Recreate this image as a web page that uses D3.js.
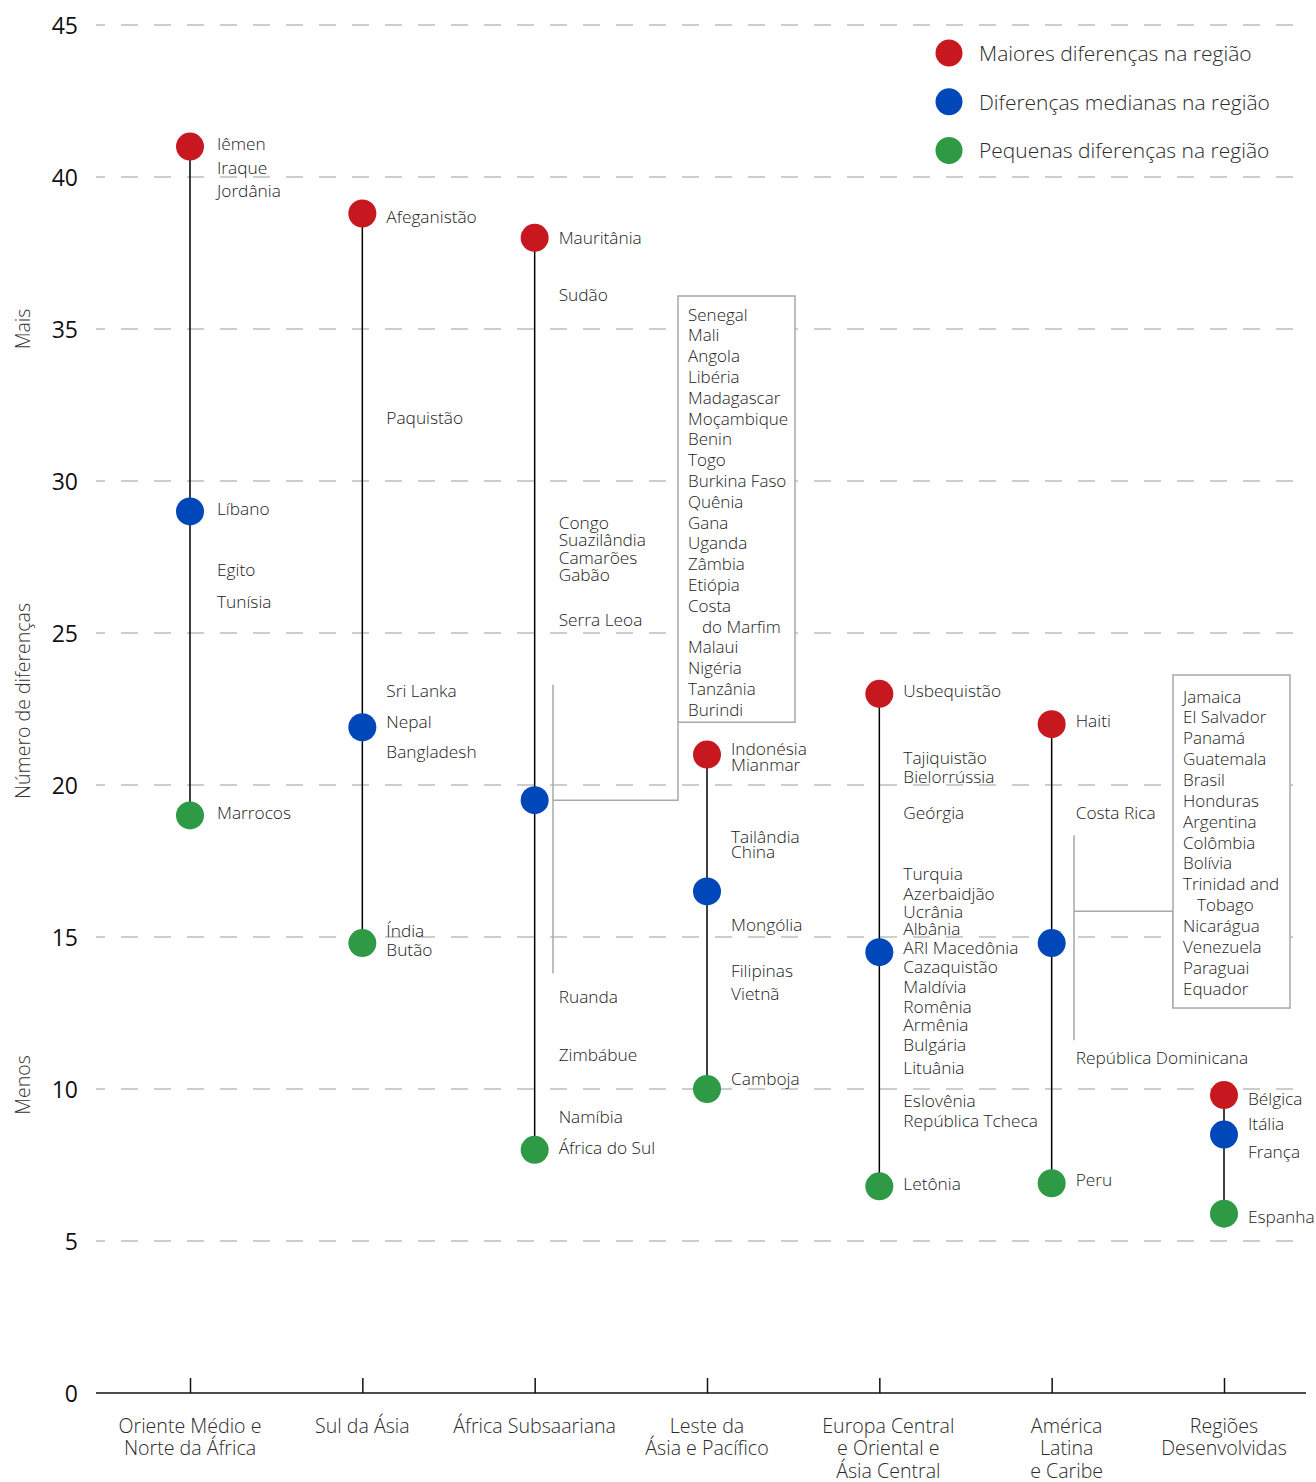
<!DOCTYPE html>
<html><head><meta charset="utf-8">
<script src="https://cdn.jsdelivr.net/npm/d3@7"></script>
<style>
html,body{margin:0;padding:0;background:#fff;}
svg text{font-family:"Open Sans","Noto Sans",sans-serif;font-weight:300;}
</style></head>
<body><svg id="chart" width="1316" height="1482"></svg>
<script>
// ---------- data ----------
const regions = [
  ["Oriente Médio e","Norte da África"],
  ["Sul da Ásia"],
  ["África Subsaariana"],
  ["Leste da","Ásia e Pacífico"],
  ["Europa Central","e Oriental e","Ásia Central"],
  ["América","Latina","e Caribe"],
  ["Regiões","Desenvolvidas"]
];
const maiores   = [41, 38.8, 38, 21, 23, 22, 9.8];
const medianas  = [29, 21.9, 19.5, 16.5, 14.5, 14.8, 8.5];
const pequenas  = [19, 14.8, 8, 10, 6.8, 6.9, 5.9];
const yTicks = [0,5,10,15,20,25,30,35,40,45];
const legendLabels = ["Maiores diferenças na região","Diferenças medianas na região","Pequenas diferenças na região"];

// country labels: [region index, name, number of differences]
const countryLabels = [
  [0,"Iêmen",41.1],[0,"Iraque",40.3],[0,"Jordânia",39.55],[0,"Líbano",29.1],[0,"Egito",27.1],[0,"Tunísia",26.05],[0,"Marrocos",19.1],
  [1,"Afeganistão",38.7],[1,"Paquistão",32.1],[1,"Sri Lanka",23.1],[1,"Nepal",22.1],[1,"Bangladesh",21.1],[1,"Índia",15.2],[1,"Butão",14.6],
  [2,"Mauritânia",38],[2,"Sudão",36.15],[2,"Congo",28.65],[2,"Suazilândia",28.06],[2,"Camarões",27.5],[2,"Gabão",26.94],[2,"Serra Leoa",25.45],
  [2,"Ruanda",13.03],[2,"Zimbábue",11.12],[2,"Namíbia",9.1],[2,"África do Sul",8.06],
  [3,"Indonésia",21.2],[3,"Mianmar",20.68],[3,"Tailândia",18.3],[3,"China",17.8],[3,"Mongólia",15.4],[3,"Filipinas",13.9],[3,"Vietnã",13.13],[3,"Camboja",10.33],
  [4,"Usbequistão",23.1],[4,"Tajiquistão",20.9],[4,"Bielorrússia",20.27],[4,"Geórgia",19.1],[4,"Turquia",17.1],[4,"Azerbaidjão",16.44],[4,"Ucrânia",15.85],
  [4,"Albânia",15.27],[4,"ARI Macedônia",14.65],[4,"Cazaquistão",14.03],[4,"Maldívia",13.37],[4,"Romênia",12.72],[4,"Armênia",12.11],[4,"Bulgária",11.46],
  [4,"Lituânia",10.72],[4,"Eslovênia",9.62],[4,"República Tcheca",8.96],[4,"Letônia",6.9],
  [5,"Haiti",22.12],[5,"Costa Rica",19.1],[5,"República Dominicana",11.05],[5,"Peru",7.02],
  [6,"Bélgica",9.68],[6,"Itália",8.85],[6,"França",7.93],[6,"Espanha",5.8]
];
// boxed lists
const boxAfrica = ["Senegal","Mali","Angola","Libéria","Madagascar","Moçambique","Benin","Togo","Burkina Faso","Quênia","Gana","Uganda","Zâmbia","Etiópia","Costa","  do Marfim","Malaui","Nigéria","Tanzânia","Burindi"];
const boxLatam  = ["Jamaica","El Salvador","Panamá","Guatemala","Brasil","Honduras","Argentina","Colômbia","Bolívia","Trinidad and","  Tobago","Nicarágua","Venezuela","Paraguai","Equador"];
// bracket range [top, bottom, link level] in number of differences
const bracketAfrica = [23.3, 13.8, 19.5];
const bracketLatam  = [18.35, 11.6, 15.85];

// ---------- layout ----------
const svg = d3.select("#chart");
const y = d3.scaleLinear().domain([0,45]).range([1393,25]);
const x = d3.scalePoint().domain(d3.range(regions.length)).range([190,1224]);
const colors = ["#c8181f","#0047ba","#2e9a46"];
const labelColor = "#222";
const xLabelShift = {4:9, 5:15};

// gridlines
svg.append("g").selectAll("line").data(yTicks.filter(d=>d>0)).join("line")
  .attr("x1",96).attr("x2",1306).attr("y1",d=>y(d)).attr("y2",d=>y(d))
  .attr("stroke","#bdbdbd").attr("stroke-width",1.5)
  .attr("stroke-dasharray","17 16").attr("stroke-dashoffset",8);

// y tick labels
svg.append("g").selectAll("text").data(yTicks).join("text")
  .attr("x",78).attr("y",d=>y(d)).attr("text-anchor","end").attr("dominant-baseline","central")
  .attr("font-size",23).attr("fill","#111").attr("style","font-weight:400").text(d=>d);

// y side titles
[["Mais",329],["Número de diferenças",701],["Menos",1085]].forEach(([t,cy])=>{
  svg.append("text").attr("transform",`translate(22,${cy}) rotate(-90)`)
    .attr("text-anchor","middle").attr("dominant-baseline","central")
    .attr("font-size",19.5).attr("fill","#333").text(t);
});

// x axis baseline + ticks
const xAxis = d3.axisBottom(x).tickSizeInner(-15).tickSizeOuter(0).tickFormat("");
const gx = svg.append("g").attr("transform","translate(0,1393)").call(xAxis);
gx.select(".domain").remove();
gx.selectAll(".tick line").attr("stroke","#111").attr("stroke-width",1.5);
svg.append("line").attr("x1",96).attr("x2",1306).attr("y1",1393).attr("y2",1393)
  .attr("stroke","#111").attr("stroke-width",1.5);

// x labels
regions.forEach((lines,i)=>{
  const t = svg.append("text").attr("text-anchor","middle").attr("font-size",19.6).attr("fill","#2b2b2b");
  lines.forEach((l,j)=>t.append("tspan").attr("x",x(i)+(xLabelShift[i]||0)).attr("y",1425+j*22.5).attr("dominant-baseline","central").text(l));
});

// brackets and boxes
function drawBox(items, bracket, bx, bw, top, firstOff, lineH, bottomPad, bracketX){
  const g = svg.append("g");
  const linkY = y(bracket[2]);
  g.append("line").attr("x1",bracketX).attr("x2",bracketX).attr("y1",y(bracket[0])).attr("y2",y(bracket[1]))
    .attr("stroke","#a8a8a8").attr("stroke-width",1.5);
  const h = firstOff + (items.length-1)*lineH + bottomPad;
  g.append("polyline").attr("points",`${bracketX},${linkY} ${bx},${linkY} ${bx},${top+h}`)
    .attr("fill","none").attr("stroke","#a8a8a8").attr("stroke-width",1.5);
  g.append("rect").attr("x",bx).attr("y",top).attr("width",bw).attr("height",h)
    .attr("fill","#fff").attr("stroke","#a8a8a8").attr("stroke-width",1.5);
  g.append("g").selectAll("text").data(items).join("text")
    .attr("x",d=>bx+10+(d.startsWith("  ")?14:0)).attr("y",(d,k)=>top+firstOff+k*lineH)
    .attr("dominant-baseline","central").attr("font-size",17).attr("fill",labelColor)
    .text(d=>d.trim());
}
drawBox(boxAfrica, bracketAfrica, 678, 117, 296, 18, 20.8, 13, 553);
drawBox(boxLatam, bracketLatam, 1173, 117, 675, 21, 20.86, 20, 1074);

// stems
svg.append("g").selectAll("line").data(d3.range(regions.length)).join("line")
  .attr("x1",i=>x(i)).attr("x2",i=>x(i)).attr("y1",i=>y(maiores[i])).attr("y2",i=>y(pequenas[i]))
  .attr("stroke","#000").attr("stroke-width",1.5);

// dots
[maiores,medianas,pequenas].forEach((series,s)=>{
  svg.append("g").selectAll("circle").data(series).join("circle")
    .attr("cx",(d,i)=>x(i)).attr("cy",d=>y(d)).attr("r",14).attr("fill",colors[s]);
});

// country labels
svg.append("g").selectAll("text").data(countryLabels).join("text")
  .attr("x",d=>x(d[0])+(d[0]===0?27:24)).attr("y",d=>y(d[2]))
  .attr("dominant-baseline","central").attr("font-size",17.3).attr("fill",labelColor)
  .text(d=>d[1]);

// legend
const lg = svg.append("g");
legendLabels.forEach((t,k)=>{
  lg.append("circle").attr("cx",949).attr("cy",53+k*48.7).attr("r",13.5).attr("fill",colors[k]);
  lg.append("text").attr("x",979).attr("y",53+k*48.7).attr("dominant-baseline","central")
    .attr("font-size",21).attr("fill","#2b2b2b").text(t);
});
</script></body></html>
